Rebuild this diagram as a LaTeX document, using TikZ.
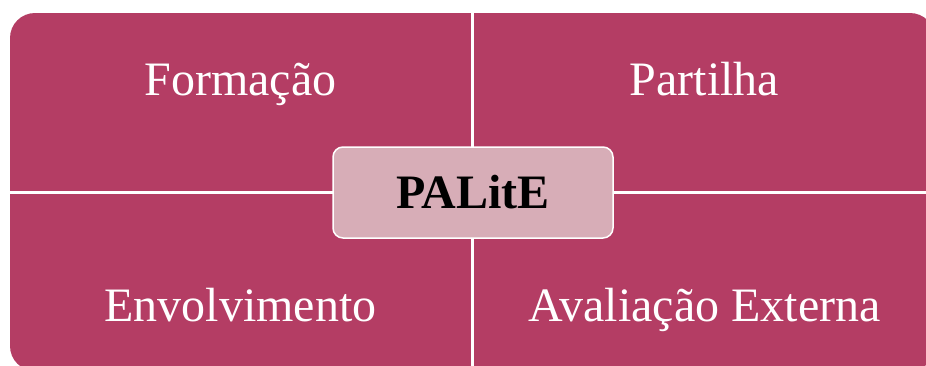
\documentclass[tikz,border=0pt]{standalone}
\usepackage{fontspec}
\setmainfont{Liberation Serif}
\definecolor{quadcol}{RGB}{180,61,100}
\definecolor{centercol}{RGB}{215,173,183}
\begin{document}
\begin{tikzpicture}[x=1pt,y=-1pt,
  quad/.style={fill=quadcol},
  gap/.style={draw=white,line width=3pt},
  lbl/.style={text=white,font=\fontsize{48}{56}\selectfont,anchor=base,inner sep=0pt},
  centerbox/.style={fill=centercol,draw=white,line width=1.5pt,rounded corners=10pt,
    minimum width=280pt,minimum height=91pt,inner sep=0pt,
    font=\fontsize{48}{56}\selectfont\bfseries,text=black}]
\useasboundingbox (0,0) rectangle (926,365);
\clip (0,0) rectangle (926,365);
\fill[quad,rounded corners=25pt] (10,13) rectangle (935,371);
\draw[gap] (472.5,0) -- (472.5,380);
\draw[gap] (0,192) -- (940,192);
\node[lbl] (f) at (240.5,95) {Formação};
\node[lbl] (p) at (704.5,95) {Partilha};
\node[lbl] (e) at (240.5,321) {Envolvimento};
\node[lbl] (a) at (704.5,321) {Avaliação Externa};
\node[centerbox] (c) at (473,192.5) {PALitE};
\end{tikzpicture}
\end{document}
